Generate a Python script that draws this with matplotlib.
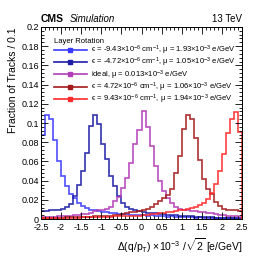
import numpy as np
import matplotlib
matplotlib.use("Agg")
import matplotlib.pyplot as plt
from matplotlib.lines import Line2D
from matplotlib.ticker import MultipleLocator, FormatStrFormatter

plt.rcParams['font.family'] = ['Liberation Sans', 'DejaVu Sans']
plt.rcParams['mathtext.fontset'] = 'custom'
plt.rcParams['mathtext.rm'] = 'Liberation Sans'
plt.rcParams['mathtext.it'] = 'Liberation Sans:italic'

# bin edges: 50 bins of 0.1 from -2.5 to 2.5
edges = np.round(np.arange(-2.5, 2.5001, 0.1), 2)

eps_m943 = [0.088, 0.108, 0.104, 0.082, 0.060, 0.045, 0.034, 0.026, 0.022, 0.017,
            0.014, 0.012, 0.010, 0.009, 0.008, 0.007, 0.007, 0.006, 0.006, 0.005,
            0.005, 0.005, 0.004, 0.004, 0.004, 0.004, 0.003, 0.004, 0.003, 0.003,
            0.003, 0.002, 0.003, 0.002, 0.002, 0.002, 0.002, 0.002, 0.001, 0.002,
            0.001, 0.001, 0.001, 0.001, 0.001, 0.001, 0.001, 0.001, 0.001, 0.001]
eps_m472 = [0.008, 0.008, 0.009, 0.009, 0.010, 0.011, 0.013, 0.016, 0.024, 0.036,
            0.050, 0.069, 0.097, 0.108, 0.099, 0.078, 0.063, 0.045, 0.034, 0.024,
            0.017, 0.013, 0.011, 0.009, 0.008, 0.007, 0.006, 0.006, 0.006, 0.005,
            0.005, 0.004, 0.004, 0.004, 0.003, 0.003, 0.003, 0.003, 0.002, 0.002,
            0.002, 0.002, 0.002, 0.001, 0.001, 0.001, 0.001, 0.001, 0.001, 0.001]
ideal = [0.002, 0.002, 0.002, 0.002, 0.003, 0.003, 0.003, 0.003, 0.004, 0.004,
         0.005, 0.005, 0.006, 0.008, 0.009, 0.010, 0.011, 0.013, 0.019, 0.023,
         0.032, 0.043, 0.058, 0.078, 0.093, 0.112, 0.096, 0.076, 0.055, 0.040,
         0.029, 0.022, 0.017, 0.013, 0.011, 0.010, 0.009, 0.008, 0.008, 0.007,
         0.007, 0.006, 0.006, 0.005, 0.004, 0.004, 0.003, 0.003, 0.003, 0.002]
eps_p472 = [0.001, 0.001, 0.001, 0.001, 0.001, 0.001, 0.002, 0.002, 0.002, 0.002,
            0.002, 0.002, 0.002, 0.003, 0.003, 0.003, 0.003, 0.003, 0.004, 0.004,
            0.005, 0.006, 0.007, 0.007, 0.008, 0.009, 0.011, 0.013, 0.016, 0.019,
            0.022, 0.025, 0.031, 0.048, 0.066, 0.094, 0.108, 0.104, 0.084, 0.061,
            0.042, 0.031, 0.026, 0.018, 0.014, 0.011, 0.010, 0.009, 0.009, 0.008]
eps_p943 = [0.001, 0.001, 0.001, 0.001, 0.001, 0.001, 0.001, 0.001, 0.001, 0.001,
            0.002, 0.002, 0.002, 0.002, 0.002, 0.002, 0.002, 0.002, 0.003, 0.003,
            0.003, 0.003, 0.003, 0.003, 0.003, 0.004, 0.004, 0.005, 0.005, 0.006,
            0.006, 0.007, 0.007, 0.008, 0.009, 0.010, 0.011, 0.012, 0.013, 0.015,
            0.017, 0.021, 0.027, 0.037, 0.050, 0.068, 0.090, 0.104, 0.111, 0.091]

series = [eps_m943, eps_m472, ideal, eps_p472, eps_p943]
labels = [
    "\u03f5 = -9.43\u00d710$^{-6}$ cm$^{-1}$, \u03bc = 1.93\u00d710$^{-3}$ e/GeV",
    "\u03f5 = -4.72\u00d710$^{-6}$ cm$^{-1}$, \u03bc = 1.05\u00d710$^{-3}$ e/GeV",
    "ideal, \u03bc = 0.013\u00d710$^{-3}$ e/GeV",
    "\u03f5 = 4.72\u00d710$^{-6}$ cm$^{-1}$, \u03bc = 1.06\u00d710$^{-3}$ e/GeV",
    "\u03f5 = 9.43\u00d710$^{-6}$ cm$^{-1}$, \u03bc = 1.94\u00d710$^{-3}$ e/GeV",
]
colors = ['#3a3aff', '#1c1ca8', '#b23cb8', '#a41a1a', '#ff2a2a']

fig = plt.figure(figsize=(2.66, 2.59), dpi=100)
ax = fig.add_axes([0.154, 0.154, 0.756, 0.742])

for vals, col in zip(series, colors):
    ax.stairs(vals, edges, color=col, lw=1.2, alpha=0.9)

ax.set_xlim(-2.5, 2.5)
ax.set_ylim(0, 0.2)
ax.xaxis.set_major_locator(MultipleLocator(0.5))
ax.xaxis.set_minor_locator(MultipleLocator(0.1))
ax.yaxis.set_major_locator(MultipleLocator(0.02))
ax.yaxis.set_minor_locator(MultipleLocator(0.004))
ax.xaxis.set_major_formatter(FormatStrFormatter('%g'))
ax.yaxis.set_major_formatter(FormatStrFormatter('%g'))
ax.tick_params(which='both', direction='in', top=True, right=True,
               labelsize=6.5, width=0.6)
ax.tick_params(axis='y', pad=1.5)
ax.tick_params(axis='x', pad=3)
ax.tick_params(which='major', length=5)
ax.tick_params(which='minor', length=2.5)
for s in ax.spines.values():
    s.set_linewidth(0.7)

ax.set_ylabel("Fraction of Tracks / 0.1", loc='top', fontsize=7.5, labelpad=2)
ax.set_xlabel("\u0394(q/p$_\\mathregular{T}$) \u00d710$^{-3}$ /$\\sqrt{2}$ [e/GeV]",
              loc='right', fontsize=7.5, labelpad=3)

ax.text(0.0, 1.015, "CMS", transform=ax.transAxes, fontsize=7.5,
        fontweight='bold', ha='left', va='bottom')
ax.text(0.145, 1.015, "Simulation", transform=ax.transAxes, fontsize=7,
        style='italic', ha='left', va='bottom')
ax.text(1.0, 1.015, "13 TeV", transform=ax.transAxes, fontsize=7,
        ha='right', va='bottom')

handles = [Line2D([], [], color=c, lw=1.2, marker='s', markersize=2.2) for c in colors]
leg = ax.legend(handles, labels, title="Layer Rotation", loc='upper left',
                bbox_to_anchor=(0.065, 0.945), frameon=False, fontsize=5.5,
                title_fontsize=5.5, alignment='left', handlelength=4.3,
                handletextpad=0.6, labelspacing=-0.12, borderaxespad=0,
                borderpad=0)

fig.savefig("out.png", dpi=100)
